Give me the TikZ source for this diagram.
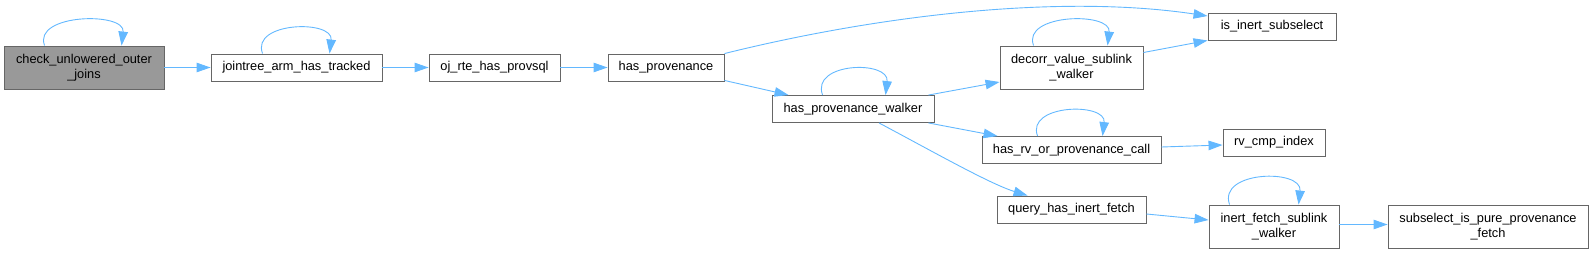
\documentclass[tikz,border=0pt]{standalone}
\usepackage{fontspec}
\setmainfont{Liberation Sans}
\usetikzlibrary{arrows.meta,calc}
\definecolor{edgeblue}{HTML}{63B8FF}
\definecolor{boxgray}{HTML}{666666}
\definecolor{rootfill}{HTML}{999999}
\tikzset{
  fnbox/.style={draw=boxgray, fill=white, line width=0.9pt, inner sep=0pt, align=center,
    font=\fontsize{12.8}{15}\selectfont},
  rootbox/.style={fnbox, fill=rootfill},
  edge/.style={draw=edgeblue, line width=0.9pt, -{Triangle[length=14pt,width=9.5pt]}},
}
\begin{document}
\begin{tikzpicture}[x=1pt,y=-1pt]
\useasboundingbox (0,0) rectangle (1593,252);
% nodes
\node[rootbox, minimum width=160, minimum height=43] (check) at (84,67.5) {check\_unlowered\_outer\\\_joins};
\node[fnbox, minimum width=171, minimum height=27] (jointree) at (296.5,67.5) {jointree\_arm\_has\_tracked};
\node[fnbox, minimum width=131, minimum height=27] (ojrte) at (494.5,67.5) {oj\_rte\_has\_provsql};
\node[fnbox, minimum width=116, minimum height=27] (hasprov) at (666,67.5) {has\_provenance};
\node[fnbox, minimum width=162, minimum height=27] (hpw) at (853,109) {has\_provenance\_walker};
\node[fnbox, minimum width=143, minimum height=43] (decorr) at (1071.5,67.5) {decorr\_value\_sublink\\\_walker};
\node[fnbox, minimum width=128, minimum height=27] (isinert) at (1272,26.5) {is\_inert\_subselect};
\node[fnbox, minimum width=179, minimum height=27] (hasrv) at (1071.5,150) {has\_rv\_or\_provenance\_call};
\node[fnbox, minimum width=102, minimum height=27] (rvcmp) at (1274,142.5) {rv\_cmp\_index};
\node[fnbox, minimum width=149, minimum height=27] (query) at (1071.5,209.5) {query\_has\_inert\_fetch};
\node[fnbox, minimum width=130, minimum height=43] (inert) at (1274,226.5) {inert\_fetch\_sublink\\\_walker};
\node[fnbox, minimum width=200, minimum height=43] (subsel) at (1488,226.5) {subselect\_is\_pure\_provenance\\\_fetch};
% straight edges
\draw[edge] (check.east) -- (jointree.west);
\draw[edge] (jointree.east) -- (ojrte.west);
\draw[edge] (ojrte.east) -- (hasprov.west);
\draw[edge] ($(hasprov.south east)+(0,-1)$) -- ([xshift=17]hpw.north west);
\draw[edge] (hasprov.north east) .. controls (880,15) and (1060,-6) .. ($(isinert.west)+(0,-10.5)$);
\draw[edge] ([xshift=-6]hpw.north east) -- ($(decorr.west)+(0,14.5)$);
\draw[edge] ([xshift=-6]hpw.south east) -- ([xshift=16]hasrv.north west);
\draw[edge] ([xshift=26]hpw.south) .. controls (930,150) and (990,184) .. ([xshift=31]query.north west);
\draw[edge] ($(decorr.east)+(0,-15)$) -- (isinert.south west);
\draw[edge] ($(hasrv.east)+(0,-3)$) -- ($(rvcmp.west)+(0,2.5)$);
\draw[edge] ($(query.east)+(0,4.5)$) -- ($(inert.west)+(0,-6.5)$);
\draw[edge] ($(inert.east)+(0,-2)$) -- ($(subsel.west)+(0,-2)$);
% self loops
\draw[edge] ([xshift=41]check.north west) .. controls +(-12,-32) and +(4,-34) .. ([xshift=118]check.north west);
\draw[edge] ([xshift=52]jointree.north west) .. controls +(-12,-32) and +(4,-34) .. ([xshift=119]jointree.north west);
\draw[edge] ([xshift=51]hpw.north west) .. controls +(-12,-33) and +(4,-35) .. ([xshift=114]hpw.north west);
\draw[edge] ([xshift=34]decorr.north west) .. controls +(-12,-32) and +(4,-34) .. ([xshift=108]decorr.north west);
\draw[edge] ([xshift=56]hasrv.north west) .. controls +(-12,-32) and +(4,-34) .. ([xshift=121]hasrv.north west);
\draw[edge] ([xshift=21]inert.north west) .. controls +(-12,-34) and +(4,-36) .. ([xshift=90]inert.north west);
\end{tikzpicture}
\end{document}
